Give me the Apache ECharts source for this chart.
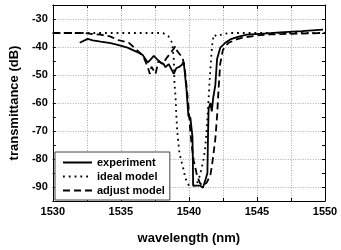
<!DOCTYPE html>
<html><head><meta charset="utf-8">
<script src="https://cdn.jsdelivr.net/npm/echarts@6/dist/echarts.min.js"></script>
<style>html,body{margin:0;padding:0;background:#fff}#c{width:341px;height:250px}</style>
</head><body><div id="c"></div>
<script>
var seriesNames = ['experiment', 'ideal model', 'adjust model'];
var xTitle = 'wavelength (nm)';
var yTitle = 'transmittance (dB)';

var expX = [1531.98, 1532.56, 1532.93, 1533.52, 1534.25, 1534.84, 1535.49, 1535.93, 1536.3, 1536.59, 1536.98, 1537.18, 1537.42, 1537.69, 1537.91, 1538.13, 1538.28, 1538.52, 1538.72, 1538.89, 1539.08, 1539.25, 1539.45, 1539.62, 1539.82, 1539.96, 1540.11, 1540.23, 1540.26, 1540.29, 1540.31, 1540.84, 1541.03, 1541.21, 1541.36, 1541.41, 1541.45, 1541.58, 1541.68, 1541.79, 1541.94, 1542.07, 1542.31, 1542.67, 1543.04, 1543.6, 1544.26, 1545.5, 1546.7, 1548.3, 1549.85];
var expY = [-38.5, -37.1, -37.6, -38.1, -38.6, -39.3, -40.2, -41.2, -42, -42.8, -45.5, -44.5, -43.2, -44.5, -45.5, -46, -47.2, -46.1, -48, -49.6, -47.5, -47.2, -46.5, -45.4, -55, -64.6, -65.3, -65.6, -72, -80, -89.5, -89.5, -90.3, -87.5, -85, -70, -62, -60, -63, -58, -53.7, -44.3, -40.2, -38.5, -37.3, -36.4, -35.6, -35.2, -34.8, -34.3, -33.8];

var idealX = [1530, 1538.1, 1538.5, 1538.77, 1538.89, 1538.94, 1539.01, 1539.08, 1539.14, 1539.3, 1539.43, 1539.62, 1539.74, 1539.91, 1540.0, 1540.5, 1540.65, 1540.8, 1540.95, 1541.08, 1541.2, 1541.3, 1541.38, 1541.45, 1541.5, 1541.58, 1541.63, 1541.7, 1541.82, 1542.07, 1542.4, 1542.9, 1550];
var idealY = [-35, -35, -36.2, -38.5, -44.3, -53, -57.2, -64.6, -70, -77.6, -80.5, -84, -86.9, -88.5, -89.5, -89.5, -88, -86, -83, -80, -76, -70, -64, -58.3, -53.7, -47.8, -44.3, -39.7, -35.6, -36.2, -35.6, -35, -35];

var adjX = [1530, 1532.4, 1532.8, 1533.5, 1534.2, 1534.8, 1535.6, 1536.1, 1536.4, 1536.7, 1536.98, 1537.13, 1537.25, 1537.38, 1537.55, 1537.77, 1538.06, 1538.4, 1538.77, 1539.0, 1539.13, 1539.33, 1539.55, 1539.7, 1539.85, 1540.0, 1540.1, 1540.23, 1540.35, 1540.6, 1540.8, 1541.0, 1541.3, 1541.58, 1541.7, 1541.82, 1541.94, 1542.07, 1542.18, 1542.3, 1542.5, 1542.9, 1543.5, 1544, 1545, 1546, 1548, 1550];
var adjY = [-35, -35, -35.3, -35.6, -36.2, -37.5, -38.5, -40.8, -42, -44, -47.2, -49.6, -47, -47.2, -49.6, -45, -46.1, -43.7, -41.4, -39.7, -41.4, -42.6, -44, -48, -55, -63, -70, -76, -80.5, -86, -88.5, -89.5, -88.5, -85.7, -82.2, -77.6, -72.9, -64.7, -55, -46, -41, -38.5, -37.3, -36.6, -35.9, -35.5, -35.2, -35];

function zip(a, b) { return a.map(function (v, i) { return [v, b[i]]; }); }

var FONT = "'Liberation Sans', Arial, sans-serif";
var chart = echarts.init(document.getElementById('c'), null, {renderer: 'canvas'});
var frame = {show: true, onZero: false, lineStyle: {color: '#000', width: 1}};
chart.setOption({
  animation: false,
  backgroundColor: '#fff',
  grid: {left: 52, right: 16, top: 5, bottom: 45},
  legend: {
    orient: 'vertical', left: 55, top: 152,
    itemWidth: 29, itemHeight: 13, itemGap: 3,
    padding: [5, 5, 4, 7],
    borderColor: '#444', borderWidth: 1, backgroundColor: '#fff',
    itemStyle: {color: 'rgba(0,0,0,0)', borderWidth: 0, opacity: 0},
    textStyle: {fontFamily: FONT, fontWeight: 'bold', fontSize: 11, color: '#000'},
    data: seriesNames
  },
  xAxis: [{
    type: 'value', min: 1530, max: 1550, interval: 5,
    name: xTitle, nameLocation: 'middle', nameGap: 31,
    nameTextStyle: {fontFamily: FONT, fontWeight: 'bold', fontSize: 13, color: '#000'},
    axisLine: frame,
    axisTick: {inside: true, length: 4, lineStyle: {color: '#000'}},
    minorTick: {show: true, splitNumber: 2, length: 3, lineStyle: {color: '#000'}},
    axisLabel: {fontFamily: FONT, fontWeight: 'bold', fontSize: 11, color: '#000', margin: 5,
      formatter: function (v) { return String(v); }},
    splitLine: {show: true, lineStyle: {color: '#aaa', type: [1, 1.5], width: 1}},
    minorSplitLine: {show: true, lineStyle: {color: '#aaa', type: [1, 1.5], width: 1}}
  }, {
    type: 'value', position: 'top', min: 1530, max: 1550, interval: 5,
    axisLine: frame, axisLabel: {show: false},
    axisTick: {inside: true, length: 4, lineStyle: {color: '#000'}},
    minorTick: {show: true, splitNumber: 2, length: 3, lineStyle: {color: '#000'}},
    splitLine: {show: false}
  }],
  yAxis: [{
    type: 'value', min: -95, max: -25, interval: 5,
    name: yTitle, nameLocation: 'middle', nameGap: 31,
    nameTextStyle: {fontFamily: FONT, fontWeight: 'bold', fontSize: 13, color: '#000'},
    axisLine: frame,
    axisTick: {inside: true, length: 3, lineStyle: {color: '#000'}},
    axisLabel: {fontFamily: FONT, fontWeight: 'bold', fontSize: 11, color: '#000', margin: 5,
      formatter: function (v) { return v % 10 === 0 ? String(v) : ''; }},
    splitLine: {show: true, showMinLine: true, showMaxLine: true,
      lineStyle: {color: ['rgba(0,0,0,0)', '#aaa'], type: [1, 1.5], width: 1}}
  }, {
    type: 'value', position: 'right', min: -95, max: -25, interval: 5,
    axisLine: frame, axisLabel: {show: false},
    axisTick: {inside: true, length: 3, lineStyle: {color: '#000'}},
    splitLine: {show: false}
  }],
  series: [{
    name: seriesNames[0], type: 'line', symbol: 'none', data: zip(expX, expY),
    lineStyle: {color: '#000', width: 1.8, type: 'solid'}, itemStyle: {color: '#000'}, z: 4
  }, {
    name: seriesNames[1], type: 'line', symbol: 'none', data: zip(idealX, idealY),
    lineStyle: {color: '#000', width: 1.8, type: [1.8, 4]}, itemStyle: {color: '#000'}, z: 3
  }, {
    name: seriesNames[2], type: 'line', symbol: 'none', data: zip(adjX, adjY),
    lineStyle: {color: '#000', width: 1.8, type: [7, 4]}, itemStyle: {color: '#000'}, z: 3
  }]
});
</script></body></html>
